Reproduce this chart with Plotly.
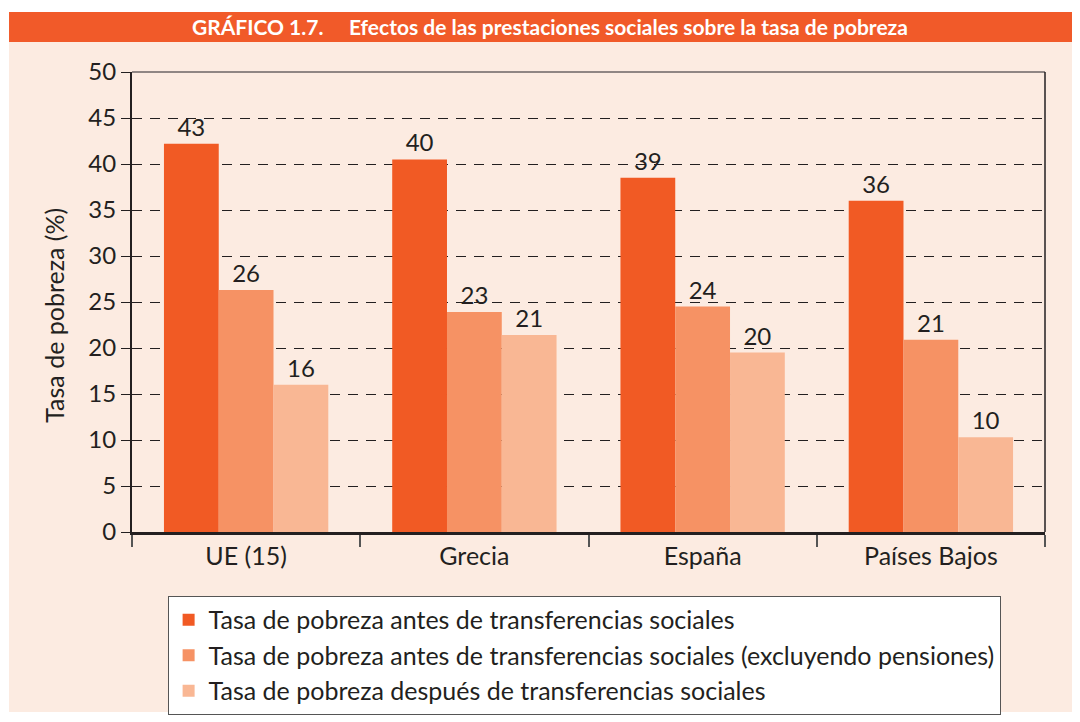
import plotly.graph_objects as go

# datos
paises = ["UE (15)", "Grecia", "España", "Países Bajos"]
series = [
    "Tasa de pobreza antes de transferencias sociales",
    "Tasa de pobreza antes de transferencias sociales (excluyendo pensiones)",
    "Tasa de pobreza después de transferencias sociales",
]
antes = [42.2, 40.5, 38.5, 36.0]
antes_sin_pens = [26.3, 23.9, 24.5, 20.9]
despues = [16.0, 21.4, 19.5, 10.3]
etiq_antes = ["43", "40", "39", "36"]
etiq_antes_sin_pens = ["26", "23", "24", "21"]
etiq_despues = ["16", "21", "20", "10"]
y_ticks = [0, 5, 10, 15, 20, 25, 30, 35, 40, 45, 50]

colores = ["#F15A24", "#F69264", "#F9B794"]
FONT = "Lato"
TXT = "#231F20"
PANEL = "#FCEBE1"

fig = go.Figure()
for nombre, vals, etiq, col in zip(series,
                                   [antes, antes_sin_pens, despues],
                                   [etiq_antes, etiq_antes_sin_pens, etiq_despues],
                                   colores):
    fig.add_trace(go.Bar(
        x=paises, y=vals, name=nombre,
        marker=dict(color=col, line=dict(width=0)),
        text=etiq, textposition="outside",
        textfont=dict(size=24, color=TXT, family=FONT),
        cliponaxis=False,
    ))

# fondo del panel y barra de título
fig.add_shape(type="rect", xref="paper", yref="paper",
              x0=-0.1347, x1=1.0329, y0=-0.3913, y1=1.1304,
              fillcolor=PANEL, line=dict(width=0), layer="below")
fig.add_shape(type="rect", xref="paper", yref="paper",
              x0=-0.1347, x1=1.0329, y0=1.0652, y1=1.1304,
              fillcolor="#F15A29", line=dict(width=0), layer="below")
# borde superior y derecho del área de trazado
fig.add_shape(type="line", xref="paper", yref="paper",
              x0=0, x1=1, y0=1, y1=1, line=dict(color="#6D6565", width=1.5))
fig.add_shape(type="line", xref="paper", yref="paper",
              x0=1, x1=1, y0=0, y1=1, line=dict(color=TXT, width=1.5))

fig.add_annotation(
    xref="paper", yref="paper", x=0.458, y=1.098, showarrow=False,
    text="<b>GRÁFICO 1.7.&nbsp;&nbsp;&nbsp;&nbsp;&nbsp;Efectos de las prestaciones sociales sobre la tasa de pobreza</b>",
    font=dict(size=21, color="white", family=FONT),
    xanchor="center", yanchor="middle",
)
# título del eje Y
fig.add_annotation(
    xref="paper", yref="paper", x=-0.0854, y=0.47, showarrow=False,
    text="Tasa de pobreza (%)", textangle=-90,
    font=dict(size=25, color=TXT, family=FONT),
    xanchor="center", yanchor="middle",
)

fig.update_layout(
    width=1080, height=722,
    margin=dict(l=124, r=43, t=64, b=198),
    paper_bgcolor="white", plot_bgcolor=PANEL,
    barmode="group", bargap=0.28, bargroupgap=0,
    font=dict(family=FONT, color=TXT),
    showlegend=True,
    legend=dict(
        x=0.039, y=-0.139, xanchor="left", yanchor="top",
        bgcolor="white", bordercolor="#555", borderwidth=1,
        font=dict(size=25, family=FONT, color=TXT),
        tracegroupgap=0, itemwidth=30,
    ),
    xaxis=dict(
        showline=True, linecolor=TXT, linewidth=3,
        ticks="outside", tickson="boundaries", ticklen=12,
        tickcolor="#555", tickwidth=1.5,
        tickfont=dict(size=25, family=FONT, color=TXT),
        showgrid=False,
    ),
    yaxis=dict(
        range=[0, 50], tickvals=y_ticks,
        showline=True, linecolor=TXT, linewidth=2,
        ticks="outside", ticklen=9, tickcolor=TXT, tickwidth=1.2,
        tickfont=dict(size=24, family=FONT, color=TXT),
        showgrid=True, gridcolor=TXT, gridwidth=1.2, griddash="10px,8px",
        zeroline=False,
    ),
)

fig.write_html("out.html")
